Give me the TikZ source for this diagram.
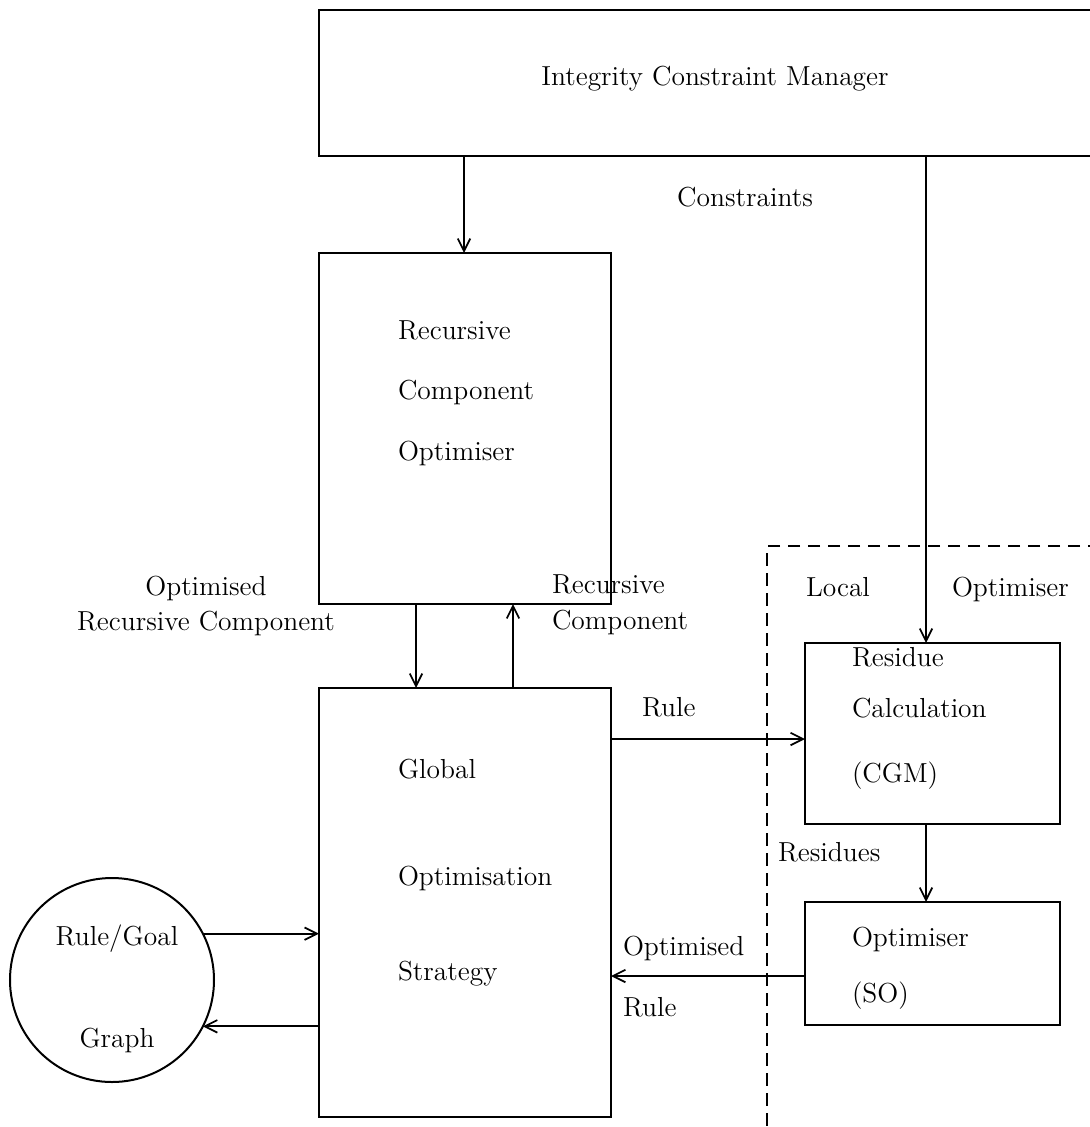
\documentclass[tikz,border=0pt]{standalone}
\usetikzlibrary{arrows.meta}
\begin{document}
\begin{tikzpicture}[x=0.4pt,y=-0.4pt,
  box/.style={draw,line width=1.1pt,inner sep=0pt,outer sep=0pt},
  arr/.style={line width=0.8pt,-{Straight Barb[length=5pt,width=5pt,line width=0.7pt]}},
  txt/.style={inner sep=0pt,outer sep=0pt,font=\fontsize{11}{13}\selectfont},
  dsh/.style={line width=0.8pt,dash pattern=on 5pt off 3pt}]
\clip (0,0) rectangle (1090,1127);
% boxes
\node[box,minimum width=312.4pt,minimum height=58.4pt] (icm) at (709.5,83) {};
\node[box,minimum width=116.8pt,minimum height=140.4pt] (rco) at (465,428.5) {};
\node[box,minimum width=116.8pt,minimum height=171.6pt] (gos) at (465,902.5) {};
\node[box,minimum width=102pt,minimum height=72.4pt] (res) at (932.5,733.5) {};
\node[box,minimum width=102pt,minimum height=49.2pt] (so) at (932.5,963.5) {};
\node[draw,circle,line width=0.8pt,minimum size=81.6pt,inner sep=0pt,outer sep=0pt] (rg) at (112,980) {};
% dashed local optimiser region
\coordinate (lc) at (767,546);
\coordinate (lr) at (1100,546);
\coordinate (lb) at (767,1140);
\draw[dsh] (lr) -- (lc) -- (lb);
% texts
\node[txt,anchor=base] (ticm) at (715,85) {Integrity Constraint Manager};
\node[txt,anchor=base] (tcon) at (745,206) {Constraints};
\node[txt,anchor=base west] (tr1) at (398,339) {Recursive};
\node[txt,anchor=base west] (tr2) at (398,399) {Component};
\node[txt,anchor=base west] (tr3) at (398,460) {Optimiser};
\node[txt,anchor=base] (tor1) at (206,595) {Optimised};
\node[txt,anchor=base] (tor2) at (206,630) {Recursive Component};
\node[txt,anchor=base west] (trc1) at (552,593) {Recursive};
\node[txt,anchor=base west] (trc2) at (552,629) {Component};
\node[txt,anchor=base west] (tloc) at (806,596) {Local};
\node[txt,anchor=base west] (tlo) at (952,596) {Optimiser};
\node[txt,anchor=base west] (tres1) at (852,666) {Residue};
\node[txt,anchor=base west] (tres2) at (852,717) {Calculation};
\node[txt,anchor=base west] (tres3) at (852,782) {(CGM)};
\node[txt,anchor=base west] (trule) at (642,716) {Rule};
\node[txt,anchor=base west] (tg1) at (398,778) {Global};
\node[txt,anchor=base west] (tg2) at (398,885) {Optimisation};
\node[txt,anchor=base west] (tg3) at (398,980) {Strategy};
\node[txt,anchor=base west] (tresd) at (778,861) {Residues};
\node[txt,anchor=base west] (tso1) at (852,946) {Optimiser};
\node[txt,anchor=base west] (tso2) at (852,1002) {(SO)};
\node[txt,anchor=base west] (tor3) at (623,955) {Optimised};
\node[txt,anchor=base west] (tor4) at (623,1016) {Rule};
\node[txt,anchor=base] (trg1) at (117,945) {Rule/Goal};
\node[txt,anchor=base] (trg2) at (117,1047) {Graph};
% connector guide coordinates
\coordinate (x1) at (464,0);
\coordinate (x2) at (926,0);
\coordinate (x3) at (416,0);
\coordinate (x4) at (513,0);
\coordinate (y1) at (0,739);
\coordinate (y2) at (0,976);
% connectors
\draw[arr] (icm.south -| x1) -- (rco.north -| x1);
\draw[arr] (icm.south -| x2) -- (res.north -| x2);
\draw[arr] (rco.south -| x3) -- (gos.north -| x3);
\draw[arr] (gos.north -| x4) -- (rco.south -| x4);
\draw[arr] (gos.east |- y1) -- (res.west |- y1);
\draw[arr] (res.south -| x2) -- (so.north -| x2);
\draw[arr] (so.west |- y2) -- (gos.east |- y2);
\draw[arr] (rg.27) -- (rg.27 -| gos.west);
\draw[arr] (rg.-27 -| gos.west) -- (rg.-27);
\end{tikzpicture}
\end{document}
